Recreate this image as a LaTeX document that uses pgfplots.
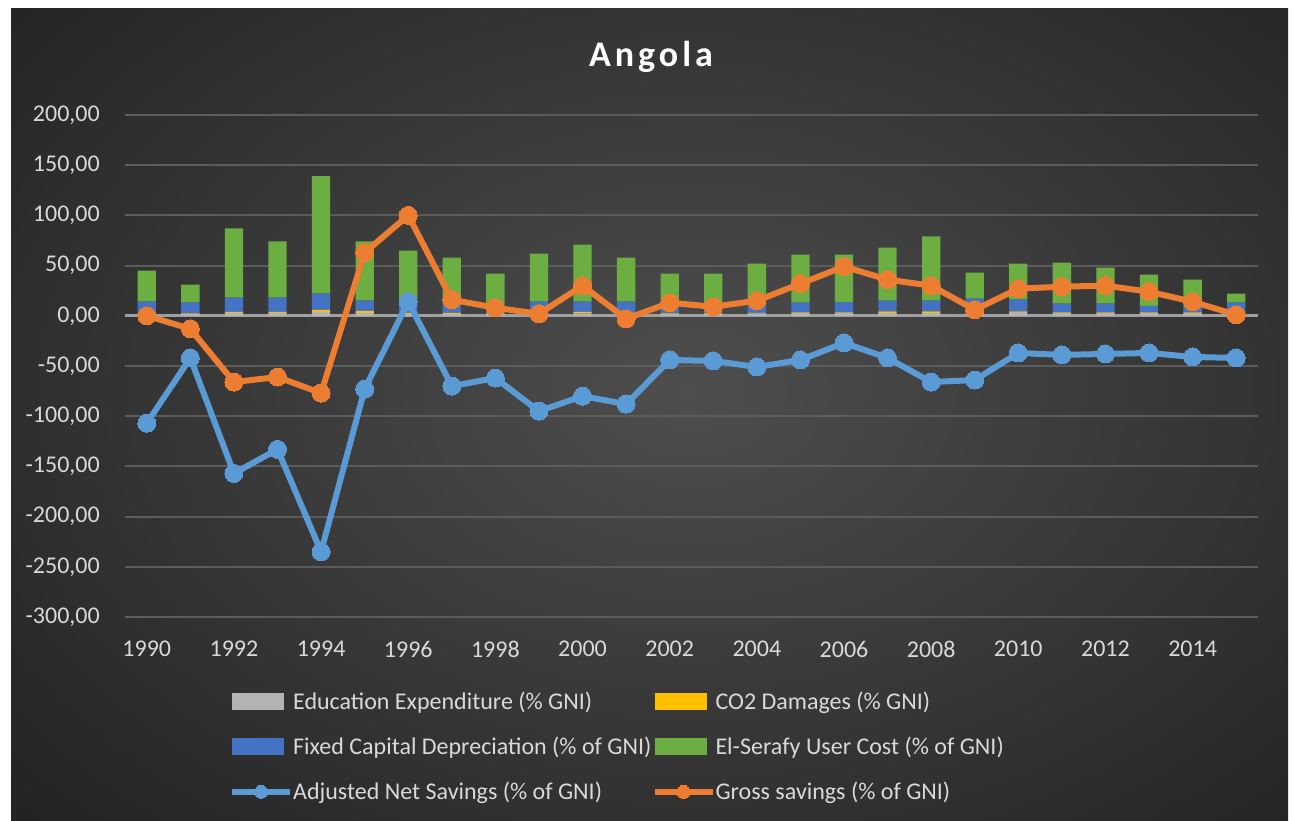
\documentclass[border=0pt]{standalone}
\usepackage{fontspec}
\setmainfont{Carlito}
\newfontfamily\titlefont[LetterSpace=11]{Carlito}
\usepackage{pgfplots}
\pgfplotsset{compat=1.18}
\usepackage{pgfplotstable}
\definecolor{bgin}{HTML}{4E4E4E}
\definecolor{bgout}{HTML}{1F1F1F}
\definecolor{gridc}{HTML}{5C5C5C}
\definecolor{zeroc}{HTML}{A0A0A0}
\definecolor{tickc}{HTML}{D9D9D9}
\definecolor{eduC}{HTML}{B3B3B3}
\definecolor{co2C}{HTML}{FFC000}
\definecolor{depC}{HTML}{4472C4}
\definecolor{elsC}{HTML}{6CAE42}
\definecolor{ansC}{HTML}{5B9BD5}
\definecolor{gsC}{HTML}{ED7D31}
\pgfplotsset{
  barleg/.style={legend image code/.code={\fill[##1] (0pt,-8.5pt) rectangle (52pt,8.5pt);}},
  lineleg/.style={legend image code/.code={\draw[mark repeat=2, mark phase=2, ##1, mark size=6.5pt] plot coordinates {(0pt,0pt) (29pt,0pt) (58pt,0pt)};}},
}
\pgfplotstableread{
year edu co2 dep els ans gs
1990 2 0.5 11.5 31 -107 0
1991 2 0.5 10.5 18 -42 -13
1992 3 1 14 69 -157 -66
1993 3 1 14 56 -133 -61
1994 4 2 16 117 -235 -77
1995 3 2 10 59 -73 63
1996 2 1 13 49 14 100
1997 2 1 10 45 -70 16
1998 2 0.5 8 31.5 -62 8
1999 2 0.5 11.5 48 -95 2
2000 2.5 1.5 10 57 -80 30
2001 2.5 0.5 11 44 -88 -3
2002 2 0.5 8 31.5 -44 13
2003 2 0.5 7.5 32 -45 9
2004 2.5 0.5 8 41 -51 15
2005 3 0.5 9.5 48 -44 32
2006 3 0.5 10 47.5 -27 49
2007 3 1.5 10.5 53 -42 36
2008 3 1.5 10.5 64 -66 30
2009 3 0.5 13.5 26 -64 6
2010 4 0.5 11.5 36 -37 27
2011 3 0.5 8.5 41 -39 29
2012 3 0.5 8.5 36 -38 30
2013 3 0.5 6.5 31 -37 24
2014 3 0.5 6.5 26 -41 14
2015 3 0.5 9.5 9 -42 1
}\data
\begin{document}
\begin{tikzpicture}[x=1pt,y=1pt]
\fill[white] (0,0) rectangle (1293,821);
\begin{scope}
\clip (11,0) rectangle (1288,812);
\shade[inner color=bgin, outer color=bgout] (690,430) ellipse (1000 and 680);
\end{scope}
\node[font=\fontsize{36}{43}\titlefont\bfseries, text=white, anchor=base, inner sep=0pt] at (651,754) {Angola};
\begin{axis}[at={(125pt,204pt)}, anchor=south west, scale only axis,
  width=1133pt, height=502pt,
  xmin=1989.5, xmax=2015.5, ymin=-300, ymax=200,
  ybar stacked, bar width=0.42,
  axis line style={draw=none}, major tick length=0pt,
  ytick={-300,-250,...,200}, xtick={1990,1992,...,2014},
  ymajorgrids, grid style={line width=2pt, color=gridc},
  extra y ticks={0}, extra y tick labels={},
  extra y tick style={grid style={line width=3pt, color=zeroc}},
  ticklabel style={text=tickc, font=\fontsize{24}{28}\selectfont},
  /pgf/number format/assume math mode=true,
  y tick label style={/pgf/number format/fixed, /pgf/number format/fixed zerofill,
    /pgf/number format/precision=2, /pgf/number format/use comma,
    inner sep=0pt, xshift=-25pt},
  x tick label style={/pgf/number format/1000 sep={}, inner sep=0pt, anchor=north, yshift=-24pt},
]
\addplot[fill=eduC, draw=none] table[x=year,y=edu]{\data};
\addplot[fill=co2C, draw=none] table[x=year,y=co2]{\data};
\addplot[fill=depC, draw=none] table[x=year,y=dep]{\data};
\addplot[fill=elsC, draw=none] table[x=year,y=els]{\data};
\end{axis}
\begin{axis}[at={(125pt,204pt)}, anchor=south west, scale only axis,
  width=1133pt, height=502pt,
  xmin=1989.5, xmax=2015.5, ymin=-300, ymax=200,
  hide axis, clip=false,
  legend columns=2,
  legend cell align=left,
  legend style={at={(0.0891,-0.1454)}, anchor=north west, draw=none, fill=none,
    text=tickc, font=\fontsize{24}{28}\selectfont,
    column sep=0pt, row sep=26pt, nodes={inner sep=0pt}},
]
\addlegendimage{fill=eduC, draw=none, barleg}
\addlegendentry{Education Expenditure (\% GNI)}
\addlegendimage{fill=co2C, draw=none, barleg}
\addlegendentry{CO2 Damages (\% GNI)}
\addlegendimage{fill=depC, draw=none, barleg}
\addlegendentry{Fixed Capital Depreciation (\% of GNI)}
\addlegendimage{fill=elsC, draw=none, barleg}
\addlegendentry{El-Serafy User Cost (\% of GNI)}
\addplot[ansC, line width=6pt, mark=*, mark size=9pt, mark options={fill=ansC, draw=ansC, line width=0pt}, lineleg]
  table[x=year,y=ans]{\data};
\addlegendentry{Adjusted Net Savings (\% of GNI)}
\addplot[gsC, line width=6pt, mark=*, mark size=9pt, mark options={fill=gsC, draw=gsC, line width=0pt}, lineleg]
  table[x=year,y=gs]{\data};
\addlegendentry{Gross savings (\% of GNI)}
\end{axis}
\end{tikzpicture}
\end{document}
